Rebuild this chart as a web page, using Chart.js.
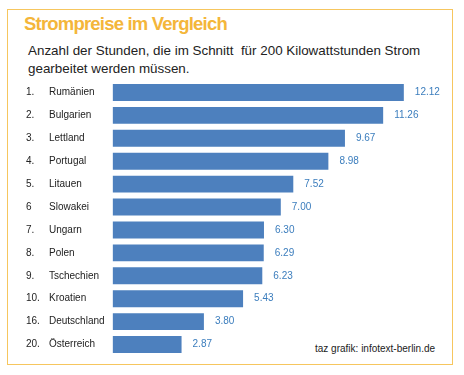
<!DOCTYPE html>
<html>
<head>
<meta charset="utf-8">
<script src="https://cdn.jsdelivr.net/npm/chart.js@4"></script>
<style>
  html, body { margin: 0; padding: 0; background: #ffffff; }
  body { width: 464px; height: 375px; position: relative; overflow: hidden; font-family: "Liberation Sans", Arial, sans-serif; }
  .rahmen { position: absolute; left: 7px; top: 9px; width: 444px; height: 354px; border: 1.5px solid #f6c65e; }
  .titel { position: absolute; left: 24px; top: 13px; font-size: 18.5px; letter-spacing: -0.8px; font-weight: bold; color: #f4b63a; margin: 0; }
  .untertitel { position: absolute; left: 28px; top: 42px; font-size: 13.4px; line-height: 18px; color: #222; margin: 0; }
  .quelle { position: absolute; left: 315px; top: 343px; font-size: 10px; color: #222; }
  #grafik { position: absolute; left: 0; top: 0; }
</style>
</head>
<body>
<div class="rahmen"></div>
<h1 class="titel">Strompreise im Vergleich</h1>
<p class="untertitel">Anzahl der Stunden, die im Schnitt&nbsp; für 200 Kilowattstunden Strom<br>gearbeitet werden müssen.</p>
<div class="quelle">taz grafik: infotext-berlin.de</div>
<canvas id="grafik" width="464" height="375"></canvas>
<script>
let raenge = ['1.', '2.', '3.', '4.', '5.', '6', '7.', '8.', '9.', '10.', '16.', '20.'];
let laender = ['Rumänien', 'Bulgarien', 'Lettland', 'Portugal', 'Litauen', 'Slowakei', 'Ungarn', 'Polen', 'Tschechien', 'Kroatien', 'Deutschland', 'Österreich'];
let stunden = [12.12, 11.26, 9.67, 8.98, 7.52, 7.00, 6.30, 6.29, 6.23, 5.43, 3.80, 2.87];

/* etiketten links und werte rechts */
const beschriftung = {
  id: 'beschriftung',
  afterDatasetsDraw(chart) {
    const ctx = chart.ctx;
    const yAchse = chart.scales.y;
    ctx.save();
    ctx.textBaseline = 'middle';
    ctx.textAlign = 'left';
    ctx.font = '10px "Liberation Sans", Arial, sans-serif';
    ctx.fillStyle = '#222';
    laender.forEach((land, i) => {
      const y = yAchse.getPixelForValue(i);
      ctx.fillText(raenge[i], 26, y);
      ctx.fillText(land, 49, y);
    });
    ctx.fillStyle = '#3b7dbd';
    chart.getDatasetMeta(0).data.forEach((balken, i) => {
      ctx.fillText(stunden[i].toFixed(2), balken.x + 11, balken.y);
    });
    ctx.restore();
  }
};

const grafica = document.getElementById('grafik').getContext('2d');

new Chart(grafica, {
  type: 'bar',
  data: {
    labels: laender,
    datasets: [{
      data: stunden,
      backgroundColor: '#4d80be',
      borderWidth: 0,
      categoryPercentage: 1,
      barPercentage: 0.74
    }]
  },
  options: {
    indexAxis: 'y',
    responsive: false,
    animation: false,
    layout: {
      padding: { left: 112.6, right: 15, top: 81, bottom: 19 }
    },
    plugins: {
      legend: { display: false },
      tooltip: { enabled: false }
    },
    scales: {
      x: {
        min: 0,
        max: 14,
        display: false
      },
      y: {
        display: false
      }
    }
  },
  plugins: [beschriftung]
});
</script>
</body>
</html>
